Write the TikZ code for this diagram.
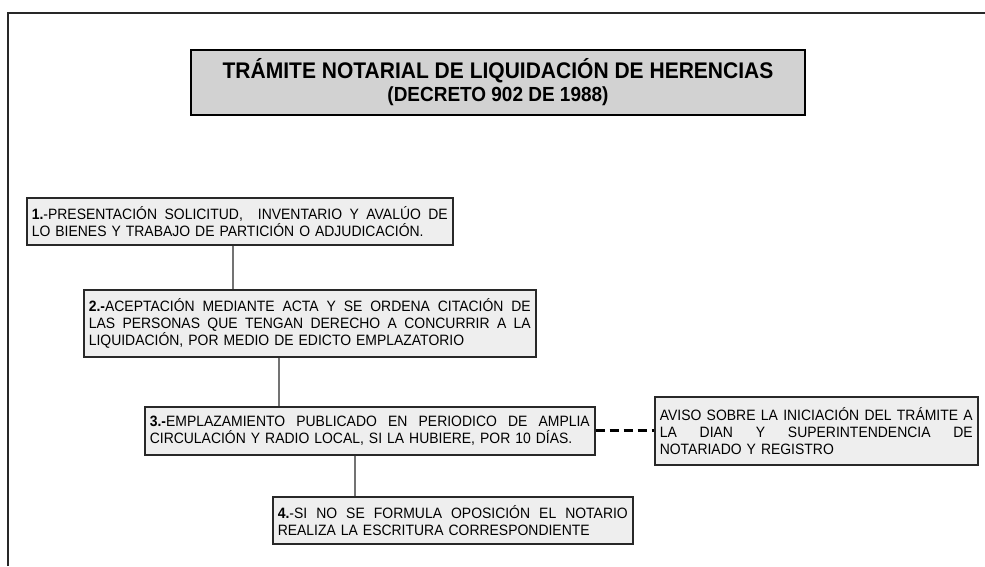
\documentclass[tikz,border=0pt]{standalone}
\usepackage{fontspec}
\setmainfont{Liberation Sans}[FakeStretch=0.93]
\usepackage{tikz}
\definecolor{bordeGris}{RGB}{40,40,40}
\definecolor{fondoCaja}{RGB}{238,238,238}
\definecolor{fondoTitulo}{RGB}{210,210,210}
\definecolor{enlaceGris}{RGB}{115,115,115}
\newcommand{\lineaJ}[1]{\makebox[\hsize][s]{\spaceskip=0pt\xspaceskip=0pt #1}\\}
\tikzstyle{pasoBox}=[shape = rectangle, draw = bordeGris, line width = 1.6pt, fill = fondoCaja, anchor = north west, inner xsep = 5pt, inner ysep = 0pt, align = left, font = \fontsize{15}{17}\selectfont]
\tikzstyle{tituloBox}=[shape = rectangle, draw = black, line width = 2pt, fill = fondoTitulo, anchor = north west, inner sep = 0pt, align = center, font = \bfseries\fontsize{20.4}{23}\selectfont]

\begin{document}
\begin{tikzpicture}[x = 1pt, y = -1pt]
\useasboundingbox (0,0) rectangle (985,566);
\tikzstyle{enlace}=[draw = enlaceGris, line width = 1.3pt]
\tikzstyle{avisoLinea}=[draw = black, line width = 2.8pt, dash pattern = on 9pt off 5pt]
% marco
\draw[bordeGris, line width = 1.3pt] (8,566) -- (8,13) -- (985,13);
% titulo
\node[tituloBox, minimum width = 614pt, minimum height = 65pt] (t0) at (190,49)
  {{\fontsize{22.6}{23}\selectfont TRÁMITE NOTARIAL DE LIQUIDACIÓN DE HERENCIAS}\\(DECRETO 902 DE 1988)};
% pasos
\node[pasoBox, text width = 416pt, minimum height = 47pt] (s1) at (26,197)
  {\lineaJ{\textbf{1.}-PRESENTACIÓN SOLICITUD,\ \ INVENTARIO Y AVALÚO DE}LO BIENES Y TRABAJO DE PARTICIÓN O ADJUDICACIÓN.};
\node[pasoBox, text width = 442pt, minimum height = 67pt] (s2) at (83,289)
  {\lineaJ{\textbf{2.-}ACEPTACIÓN MEDIANTE ACTA Y SE ORDENA CITACIÓN DE}\lineaJ{LAS PERSONAS QUE TENGAN DERECHO A CONCURRIR A LA}LIQUIDACIÓN, POR MEDIO DE EDICTO EMPLAZATORIO};
\node[pasoBox, text width = 440pt, minimum height = 48pt] (s3) at (144,406)
  {\lineaJ{\textbf{3.-}EMPLAZAMIENTO PUBLICADO EN PERIODICO DE AMPLIA}CIRCULACIÓN Y RADIO LOCAL, SI LA HUBIERE, POR 10 DÍAS.};
\node[pasoBox, text width = 350pt, minimum height = 47pt] (s4) at (272,496)
  {\lineaJ{\textbf{4.}-SI NO SE FORMULA OPOSICIÓN EL NOTARIO}REALIZA LA ESCRITURA CORRESPONDIENTE};
\node[pasoBox, text width = 313pt, minimum height = 68pt] (aviso) at (654,396)
  {\lineaJ{AVISO SOBRE LA INICIACIÓN DEL TRÁMITE A}\lineaJ{LA DIAN Y SUPERINTENDENCIA DE}NOTARIADO Y REGISTRO};
% enlaces
\draw[enlace] (s1.south -| 233,0) -- (s2.north -| 233,0);
\draw[enlace] (s2.south -| 279,0) -- (s3.north -| 279,0);
\draw[enlace] (s3.south -| 355,0) -- (s4.north -| 355,0);
\draw[avisoLinea] (s3.east) -- (aviso.west);
\end{tikzpicture}
\end{document}
